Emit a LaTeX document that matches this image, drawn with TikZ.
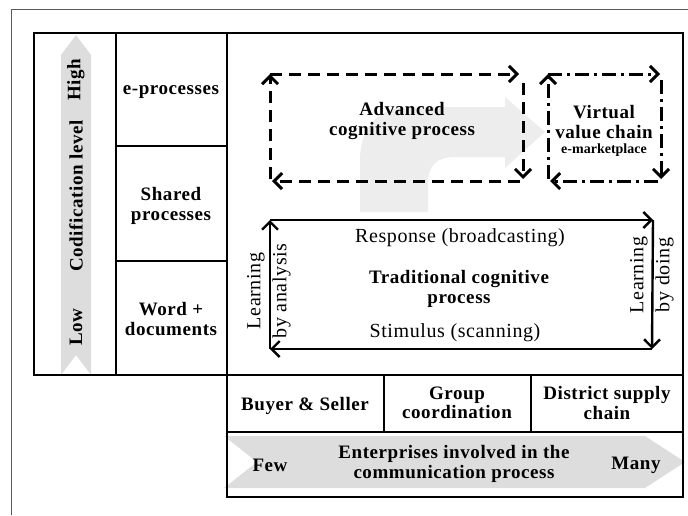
\documentclass[tikz,border=0pt]{standalone}
\usepackage{fontspec}
\setmainfont{Liberation Serif}
\usetikzlibrary{arrows.meta}
\definecolor{arrowgray}{HTML}{DDDDDD}
\definecolor{curvegray}{HTML}{EDEDED}
\begin{document}
\begin{tikzpicture}[x=1pt,y=-1pt,
  heavy/.style={line width=2.6pt},
  divider/.style={line width=1.3pt},
  boxlbl/.style={font=\bfseries\fontsize{19}{19.5}\selectfont\addfontfeature{LetterSpace=3}, align=center, inner sep=0pt},
  reglbl/.style={font=\fontsize{20}{26}\selectfont\addfontfeature{LetterSpace=3}, align=center, inner sep=0pt},
  barb/.style={-{Straight Barb[length=8pt,width=16pt]}},
  dashbox/.style={line width=3pt, dash pattern=on 12pt off 7pt, barb},
  dotbox/.style={line width=3pt, dash pattern=on 14pt off 5pt on 3pt off 5pt, barb},
  loopline/.style={line width=2.4pt, barb}]
\useasboundingbox (0,0) rectangle (688,515);
% outer thin frame
\draw[line width=1pt, black!65] (11,515) -- (11,9) -- (688,9);
% gray arrows
\fill[arrowgray] (61,375) -- (61,55) -- (76,35) -- (91,55) -- (91,375) -- (76,355) -- cycle;
\fill[arrowgray] (224,436) -- (645,436) -- (685,462) -- (645,488) -- (224,488) -- (257,462) -- cycle;
\fill[curvegray] (360,212) -- (360,160) .. controls (360,128) and (378,107) .. (410,107) -- (505,107) -- (505,97) -- (545,132) -- (505,168) -- (505,157) -- (455,157) .. controls (438,157) and (428,165) .. (428,182) -- (428,212) -- cycle;
% frames
\draw[heavy] (34,33) rectangle (227,375);
\draw[heavy] (227,33) rectangle (683,497);
\draw[heavy] (227,375) -- (683,375);
\draw[divider] (116,33) -- (116,375);
\draw[divider] (116,146) -- (227,146);
\draw[divider] (116,261) -- (227,261);
\draw[divider] (227,432) -- (683,432);
\draw[divider] (384,375) -- (384,432);
\draw[divider] (531,375) -- (531,432);
% left labels
\node[boxlbl] (eproc) at (171,92) {e-processes};
\node[boxlbl] (shared) at (171,206) {Shared\\processes};
\node[boxlbl] (word) at (171,319) {Word +\\documents};
\node[boxlbl, rotate=90] (low) at (76,327) {Low};
\node[boxlbl, rotate=90] (cod) at (76,196) {Codification level};
\node[boxlbl, rotate=90] (high) at (76,80) {High};
% bottom labels
\node[boxlbl] (buyer) at (305,406) {Buyer \& Seller};
\node[boxlbl] (group) at (457,403) {Group\\coordination};
\node[boxlbl] (district) at (607,403) {District supply\\chain};
\node[boxlbl] (few) at (270,465) {Few};
\node[boxlbl] (ent) at (454,464) {Enterprises involved in the\\communication process};
\node[boxlbl] (many) at (636,465) {Many};
% advanced cognitive process loop
\coordinate (a1) at (270,74);
\coordinate (a2) at (519,74);
\coordinate (a3) at (523,83);
\coordinate (a4) at (523,179);
\coordinate (a5) at (520,181);
\coordinate (a6) at (272,181);
\coordinate (a7) at (270,179);
\draw[dashbox] (a1) -- (a2);
\draw[dashbox] (a3) -- (a4);
\draw[dashbox] (a5) -- (a6);
\draw[dashbox] (a7) -- (a1);
\node[boxlbl] (adv) at (402,121) {Advanced\\cognitive process};
% virtual value chain loop
\coordinate (v1) at (548,74);
\coordinate (v2) at (660,74);
\coordinate (v3) at (661,80);
\coordinate (v4) at (661,179);
\coordinate (v5) at (658,181);
\coordinate (v6) at (550,181);
\coordinate (v7) at (548,179);
\draw[dotbox] (v1) -- (v2);
\draw[dotbox] (v3) -- (v4);
\draw[dotbox] (v5) -- (v6);
\draw[dotbox] (v7) -- (v1);
\node[boxlbl] (virt) at (604,122) {Virtual\\value chain};
\node[font=\bfseries\fontsize{14}{15}\selectfont, inner sep=0pt] (emk) at (604,150) {e-marketplace};
% traditional loop
\coordinate (t1) at (270,220);
\coordinate (t2) at (653,220);
\coordinate (t3) at (652,349);
\coordinate (t4) at (270,349);
\draw[loopline] (t1) -- (t2);
\draw[loopline] (t2) -- (t3);
\draw[loopline] (t3) -- (t4);
\draw[loopline] (t4) -- (t1);
\node[reglbl] (resp) at (460,238) {Response (broadcasting)};
\node[reglbl] (stim) at (455,333) {Stimulus (scanning)};
\node[boxlbl] (trad) at (459,289) {Traditional cognitive\\process};
\node[reglbl, rotate=90] (lba) at (269,291) {Learning\\by analysis};
\node[reglbl, rotate=90] (lbd) at (652,275) {Learning\\by doing};
\end{tikzpicture}
\end{document}
